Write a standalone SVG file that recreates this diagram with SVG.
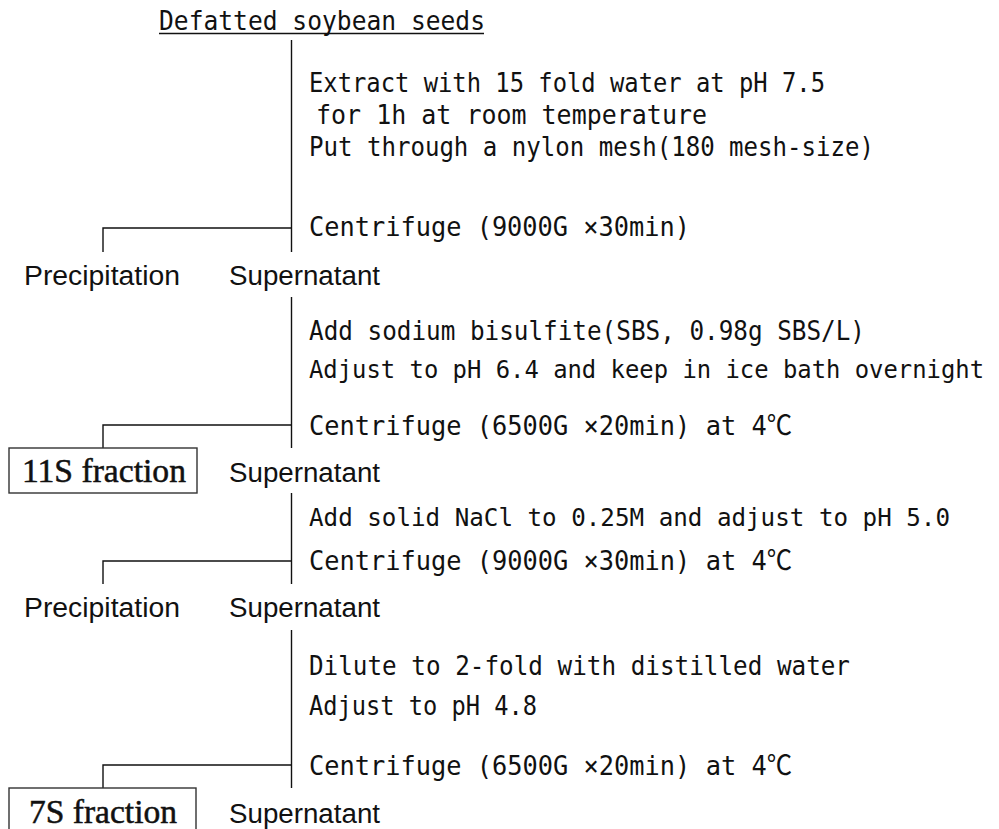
<svg xmlns="http://www.w3.org/2000/svg" width="999" height="829" viewBox="0 0 999 829">
<style>
  .mono { font-family: "DejaVu Sans Mono", "Noto Sans CJK KR", monospace; font-size: 27px; fill: #111; }
  .sans { font-family: "Liberation Sans", "Noto Sans", sans-serif; font-size: 27px; fill: #111; }
  .ser { font-family: "Liberation Serif", "Noto Sans CJK KR", serif; font-size: 33px; fill: #111; stroke: #111; stroke-width: 0.5; }
  .ln { fill: none; stroke: #111; stroke-width: 1.4; }
  .box { fill: #fff; stroke: #333; stroke-width: 1.4; }
</style>
<rect width="999" height="829" fill="#fff"/>
<g id="connectors">
  <path class="ln" d="M291.5 40 V252"/>
  <path class="ln" d="M291.5 228 H103 V252"/>
  <path class="ln" d="M291.5 297 V448"/>
  <path class="ln" d="M291.5 425 H103 V448"/>
  <path class="ln" d="M291.5 493 V584"/>
  <path class="ln" d="M291.5 561 H103 V584"/>
  <path class="ln" d="M291.5 630 V788"/>
  <path class="ln" d="M291.5 765 H103 V788"/>
</g>
<g id="start">
  <text class="mono" x="159" y="30" textLength="326" lengthAdjust="spacingAndGlyphs">Defatted soybean seeds</text>
  <line class="ln" x1="159" y1="33.5" x2="484" y2="33.5"/>
</g>
<g id="step1">
  <text class="mono" x="309" y="92" textLength="516" lengthAdjust="spacingAndGlyphs">Extract with 15 fold water at pH 7.5</text>
  <text class="mono" x="316" y="124" textLength="391" lengthAdjust="spacingAndGlyphs">for 1h at room temperature</text>
  <text class="mono" x="309" y="156" textLength="565" lengthAdjust="spacingAndGlyphs">Put through a nylon mesh(180 mesh-size)</text>
  <text class="mono" x="309" y="236" textLength="381" lengthAdjust="spacingAndGlyphs">Centrifuge (9000G ×30min)</text>
</g>
<g id="precip1"><text class="sans" x="24" y="285" textLength="156" lengthAdjust="spacingAndGlyphs">Precipitation</text></g>
<g id="super1"><text class="sans" x="229" y="285" textLength="151" lengthAdjust="spacingAndGlyphs">Supernatant</text></g>
<g id="step2">
  <text class="mono" x="309" y="340" textLength="556" lengthAdjust="spacingAndGlyphs">Add sodium bisulfite(SBS, 0.98g SBS/L)</text>
  <text class="mono" x="309" y="378" textLength="675" lengthAdjust="spacingAndGlyphs" style="font-size:24px">Adjust to pH 6.4 and keep in ice bath overnight</text>
  <text class="mono" x="309" y="435" textLength="483" lengthAdjust="spacingAndGlyphs">Centrifuge (6500G ×20min) at 4℃</text>
</g>
<g id="frac11S">
  <rect class="box" x="9" y="448" width="188" height="45"/>
  <text class="ser" x="22" y="482" textLength="164" lengthAdjust="spacingAndGlyphs">11S fraction</text>
</g>
<g id="super2"><text class="sans" x="229" y="482" textLength="151" lengthAdjust="spacingAndGlyphs">Supernatant</text></g>
<g id="step3">
  <text class="mono" x="309" y="526" textLength="641" lengthAdjust="spacingAndGlyphs" style="font-size:25.5px">Add solid NaCl to 0.25M and adjust to pH 5.0</text>
  <text class="mono" x="309" y="570" textLength="483" lengthAdjust="spacingAndGlyphs">Centrifuge (9000G ×30min) at 4℃</text>
</g>
<g id="precip2"><text class="sans" x="24" y="617" textLength="156" lengthAdjust="spacingAndGlyphs">Precipitation</text></g>
<g id="super3"><text class="sans" x="229" y="617" textLength="151" lengthAdjust="spacingAndGlyphs">Supernatant</text></g>
<g id="step4">
  <text class="mono" x="309" y="675" textLength="541" lengthAdjust="spacingAndGlyphs">Dilute to 2-fold with distilled water</text>
  <text class="mono" x="309" y="715" textLength="228" lengthAdjust="spacingAndGlyphs">Adjust to pH 4.8</text>
  <text class="mono" x="309" y="775" textLength="483" lengthAdjust="spacingAndGlyphs">Centrifuge (6500G ×20min) at 4℃</text>
</g>
<g id="frac7S">
  <rect class="box" x="9" y="788" width="187" height="46"/>
  <text class="ser" x="29" y="823" textLength="148" lengthAdjust="spacingAndGlyphs">7S fraction</text>
</g>
<g id="super4"><text class="sans" x="229" y="823" textLength="151" lengthAdjust="spacingAndGlyphs">Supernatant</text></g>
</svg>
